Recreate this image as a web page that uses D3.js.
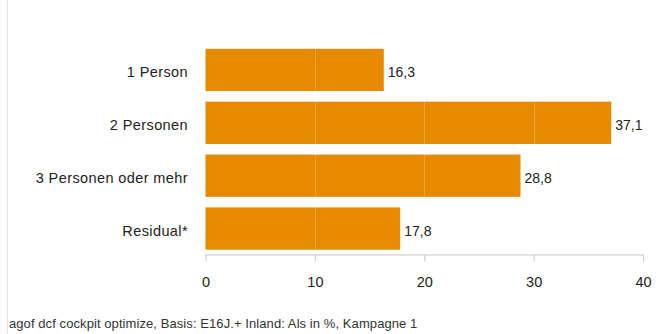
<!DOCTYPE html>
<html>
<head>
<meta charset="utf-8">
<script src="https://cdn.jsdelivr.net/npm/d3@7"></script>
<style>
  html, body { margin: 0; padding: 0; background: #fff; }
  svg { display: block; font-family: "Liberation Sans", Arial, sans-serif; }
</style>
</head>
<body>
<svg id="chart" width="659" height="334"></svg>
<script>
// Haushaltsgröße – Anteile in %
const categories = ["1 Person", "2 Personen", "3 Personen oder mehr", "Residual*"];
const values = [16.3, 37.1, 28.8, 17.8];
const xTicks = [0, 10, 20, 30, 40];
const footnote = "agof dcf cockpit optimize, Basis: E16J.+ Inland: Als in %, Kampagne 1";

const svg = d3.select("#chart");
const fmt = v => d3.format(".1f")(v).replace(".", ",");

const x = d3.scaleLinear().domain([0, 40]).range([205.5, 643]);
const y = d3.scaleBand().domain(categories).range([43.5, 255]).paddingInner(0.2).paddingOuter(0.1);

// left frame line
svg.append("line")
  .attr("x1", 7.5).attr("x2", 7.5).attr("y1", 0).attr("y2", 334)
  .attr("stroke", "#e2e2e2").attr("stroke-width", 1);

// bars
svg.append("g").selectAll("rect")
  .data(values)
  .join("rect")
  .attr("x", x(0))
  .attr("y", (d, i) => y(categories[i]))
  .attr("width", d => x(d) - x(0))
  .attr("height", y.bandwidth())
  .attr("fill", "#e68a00");

// light grid lines over the bars
svg.append("g").selectAll("line")
  .data(xTicks.slice(1, -1))
  .join("line")
  .attr("x1", d => Math.round(x(d)) + 0.5)
  .attr("x2", d => Math.round(x(d)) + 0.5)
  .attr("y1", y.range()[0])
  .attr("y2", 254)
  .attr("stroke", "#ffffff").attr("stroke-opacity", 0.22);

// category labels
svg.append("g").selectAll("text")
  .data(categories)
  .join("text")
  .attr("x", 188)
  .attr("y", d => y(d) + y.bandwidth() / 2)
  .attr("dy", "0.48em")
  .attr("text-anchor", "end")
  .attr("font-size", 14.5)
  .attr("letter-spacing", 0.4)
  .attr("fill", "#222")
  .text(d => d);

// value labels
svg.append("g").selectAll("text")
  .data(values)
  .join("text")
  .attr("x", d => x(d) + 4)
  .attr("y", (d, i) => y(categories[i]) + y.bandwidth() / 2)
  .attr("dy", "0.5em")
  .attr("font-size", 14)
  .attr("fill", "#222")
  .text(d => fmt(d));

// x axis
const axis = d3.axisBottom(x).tickValues(xTicks).tickSize(7).tickPadding(15).tickFormat(d3.format("d"));
const gx = svg.append("g").attr("transform", "translate(0,254.5)").call(axis);
gx.select(".domain").attr("stroke", "#c8c8c8").attr("d", `M${x(0)},0.5H${x(40)}`);
gx.selectAll(".tick line").attr("stroke", "#c8c8c8");
gx.selectAll(".tick text").attr("font-size", 14.5).attr("fill", "#222")
  .attr("font-family", "Liberation Sans, Arial, sans-serif");

// footnote
svg.append("text")
  .attr("x", 9).attr("y", 328)
  .attr("font-size", 13)
  .attr("letter-spacing", 0.08)
  .attr("fill", "#333")
  .text(footnote);
</script>
</body>
</html>
